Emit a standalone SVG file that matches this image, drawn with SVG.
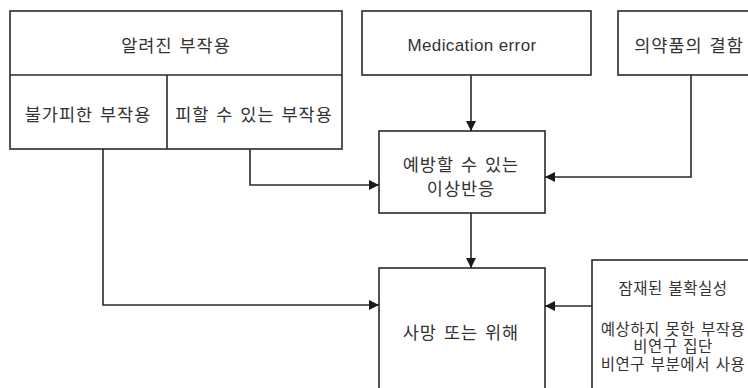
<svg xmlns="http://www.w3.org/2000/svg" width="748" height="388" viewBox="0 0 748 388">
<style>
.box{fill:#fff;stroke:#2a2a2a;stroke-width:1.6}
.ln{fill:none;stroke:#2a2a2a;stroke-width:1.6}
.t{font-family:"Noto Sans CJK KR","Noto Sans",sans-serif;font-size:17.5px;fill:#333;text-anchor:middle;dominant-baseline:central;letter-spacing:1px;word-spacing:2px}
.s{font-family:"Liberation Sans","Noto Sans CJK KR",sans-serif;font-size:15.5px;letter-spacing:0.5px;word-spacing:1px}
.e{font-family:"Liberation Sans",Arial,sans-serif;font-size:17px;letter-spacing:0.4px;word-spacing:0}
</style>
<defs>
<marker id="ah" viewBox="0 0 10 10" refX="10" refY="5" markerWidth="10" markerHeight="10" markerUnits="userSpaceOnUse" orient="auto">
<path d="M0,0 L10,5 L0,10 Z" fill="#1a1a1a"/>
</marker>
</defs>
<g id="known">
<rect class="box" x="10" y="11" width="332" height="138"/>
<line class="ln" x1="10" y1="75" x2="342" y2="75"/>
<line class="ln" x1="167" y1="75" x2="167" y2="149"/>
<text class="t" x="176" y="44">알려진 부작용</text>
<text class="t" x="88" y="113">불가피한 부작용</text>
<text class="t" x="254" y="113">피할 수 있는 부작용</text>
</g>
<g id="mederr">
<rect class="box" x="362" y="11" width="229" height="64"/>
<text class="t e" x="472" y="45">Medication error</text>
</g>
<g id="defect">
<rect class="box" x="618" y="11" width="142" height="64"/>
<text class="t" x="689" y="44">의약품의 결함</text>
</g>
<g id="preventable">
<rect class="box" x="379" y="131" width="166" height="82"/>
<text class="t" x="461" y="163">예방할 수 있는</text>
<text class="t" x="461" y="187">이상반응</text>
</g>
<g id="harm">
<rect class="box" x="379" y="268" width="166" height="125"/>
<text class="t" x="461" y="331">사망 또는 위해</text>
</g>
<g id="uncertain">
<rect class="box" x="592" y="260" width="165" height="133"/>
<text class="t s" x="673" y="288">잠재된 불확실성</text>
<text class="t s" x="673" y="329">예상하지 못한 부작용</text>
<text class="t s" x="673" y="346.5">비연구 집단</text>
<text class="t s" x="673" y="364">비연구 부분에서 사용</text>
</g>
<g id="connectors">
<polyline class="ln" points="250,149 250,185 379,185" marker-end="url(#ah)"/>
<polyline class="ln" points="103,149 103,305 379,305" marker-end="url(#ah)"/>
<line class="ln" x1="471" y1="75" x2="471" y2="131" marker-end="url(#ah)"/>
<polyline class="ln" points="691,75 691,177 545,177" marker-end="url(#ah)"/>
<line class="ln" x1="471" y1="213" x2="471" y2="268" marker-end="url(#ah)"/>
<line class="ln" x1="592" y1="306" x2="545" y2="306" marker-end="url(#ah)"/>
</g>
</svg>
